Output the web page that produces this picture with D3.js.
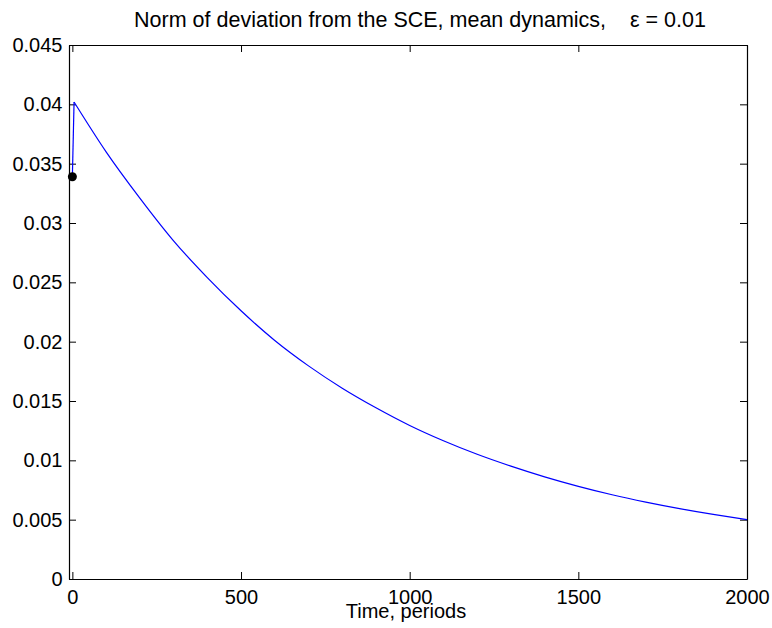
<!DOCTYPE html>
<html>
<head>
<meta charset="utf-8">
<script src="https://cdn.jsdelivr.net/npm/d3@7"></script>
<style>
  body { margin: 0; background: #fff; }
  svg text { font-family: "Liberation Sans", Arial, sans-serif; fill: #000; }
</style>
</head>
<body>
<div id="chart"></div>
<script>
// Chart data
var periods = [0, 5, 100, 200, 300, 400, 500, 600, 700, 800, 900, 1000,
  1100, 1200, 1300, 1400, 1500, 1600, 1700, 1800, 1900, 2000];
var deviation = [0.0339, 0.0402, 0.0360, 0.0321, 0.0285, 0.0254, 0.0226, 0.0201,
  0.01796, 0.01608, 0.01443, 0.01294, 0.01165, 0.01051, 0.00951, 0.00861,
  0.00781, 0.00710, 0.00648, 0.00593, 0.00544, 0.00500];
var startPoint = { t: 0, v: 0.0339 };
var xTicks = [0, 500, 1000, 1500, 2000];
var yTicks = [0, 0.005, 0.01, 0.015, 0.02, 0.025, 0.03, 0.035, 0.04, 0.045];

var svgWidth = 772;
var svgHeight = 628;

var margin = { top: 45, right: 25, bottom: 49, left: 69 };
var width = svgWidth - margin.left - margin.right;
var height = svgHeight - margin.top - margin.bottom;

var svg = d3.select("#chart")
  .append("svg")
  .attr("width", svgWidth)
  .attr("height", svgHeight);

var g = svg.append("g")
  .attr("transform", `translate(${margin.left}, ${margin.top})`);

var xScale = d3.scaleLinear().domain([-10, 2000]).range([0, width]);
var yScale = d3.scaleLinear().domain([0, 0.045]).range([height, 0]);

var fmt = d => d === 0 ? "0" : String(+d.toFixed(3));

// axes with inward ticks, matlab style box
var bottomAxis = d3.axisBottom(xScale).tickValues(xTicks).tickSizeInner(-7).tickSizeOuter(0).tickPadding(11).tickFormat(fmt);
var topAxis = d3.axisTop(xScale).tickValues(xTicks).tickSizeInner(-7).tickSizeOuter(0).tickFormat("");
var leftAxis = d3.axisLeft(yScale).tickValues(yTicks).tickSizeInner(-7).tickSizeOuter(0).tickPadding(6.5).tickFormat(fmt);
var rightAxis = d3.axisRight(yScale).tickValues(yTicks).tickSizeInner(-7).tickSizeOuter(0).tickFormat("");

g.append("g").attr("class", "axis").attr("transform", `translate(0, ${height})`).call(bottomAxis);
g.append("g").attr("class", "axis").call(topAxis);
g.append("g").attr("class", "axis").call(leftAxis);
g.append("g").attr("class", "axis").attr("transform", `translate(${width}, 0)`).call(rightAxis);

g.selectAll(".axis path").attr("stroke", "#000").attr("stroke-width", 1.2);
g.selectAll(".axis line").attr("stroke", "#000").attr("stroke-width", 1);
g.selectAll(".axis text").style("font-size", "20px").attr("fill", "#000");

// the jump from the start point to the peak, then the decay
var pts = periods.map((t, i) => [t, deviation[i]]);

var jumpLine = d3.line()
  .x(d => xScale(d[0]))
  .y(d => yScale(d[1]));

var decayLine = d3.line()
  .x(d => xScale(d[0]))
  .y(d => yScale(d[1]))
  .curve(d3.curveMonotoneX);

g.append("path")
  .datum(pts.slice(0, 2))
  .attr("fill", "none")
  .attr("stroke", "#0000ff")
  .attr("stroke-width", 1.2)
  .attr("d", jumpLine);

g.append("path")
  .datum(pts.slice(1))
  .attr("fill", "none")
  .attr("stroke", "#0000ff")
  .attr("stroke-width", 1.2)
  .attr("d", decayLine);

// starting point
g.append("circle")
  .attr("cx", xScale(startPoint.t))
  .attr("cy", yScale(startPoint.v))
  .attr("r", 4.5)
  .attr("fill", "#000");

// title and axis label
svg.append("text")
  .attr("x", 420)
  .attr("y", 27)
  .attr("text-anchor", "middle")
  .attr("xml:space", "preserve")
  .style("font-size", "21.5px")
  .text("Norm of deviation from the SCE, mean dynamics,    \u03b5 = 0.01");

svg.append("text")
  .attr("x", 406)
  .attr("y", 617.5)
  .attr("text-anchor", "middle")
  .style("font-size", "20px")
  .text("Time, periods");
</script>
</body>
</html>
